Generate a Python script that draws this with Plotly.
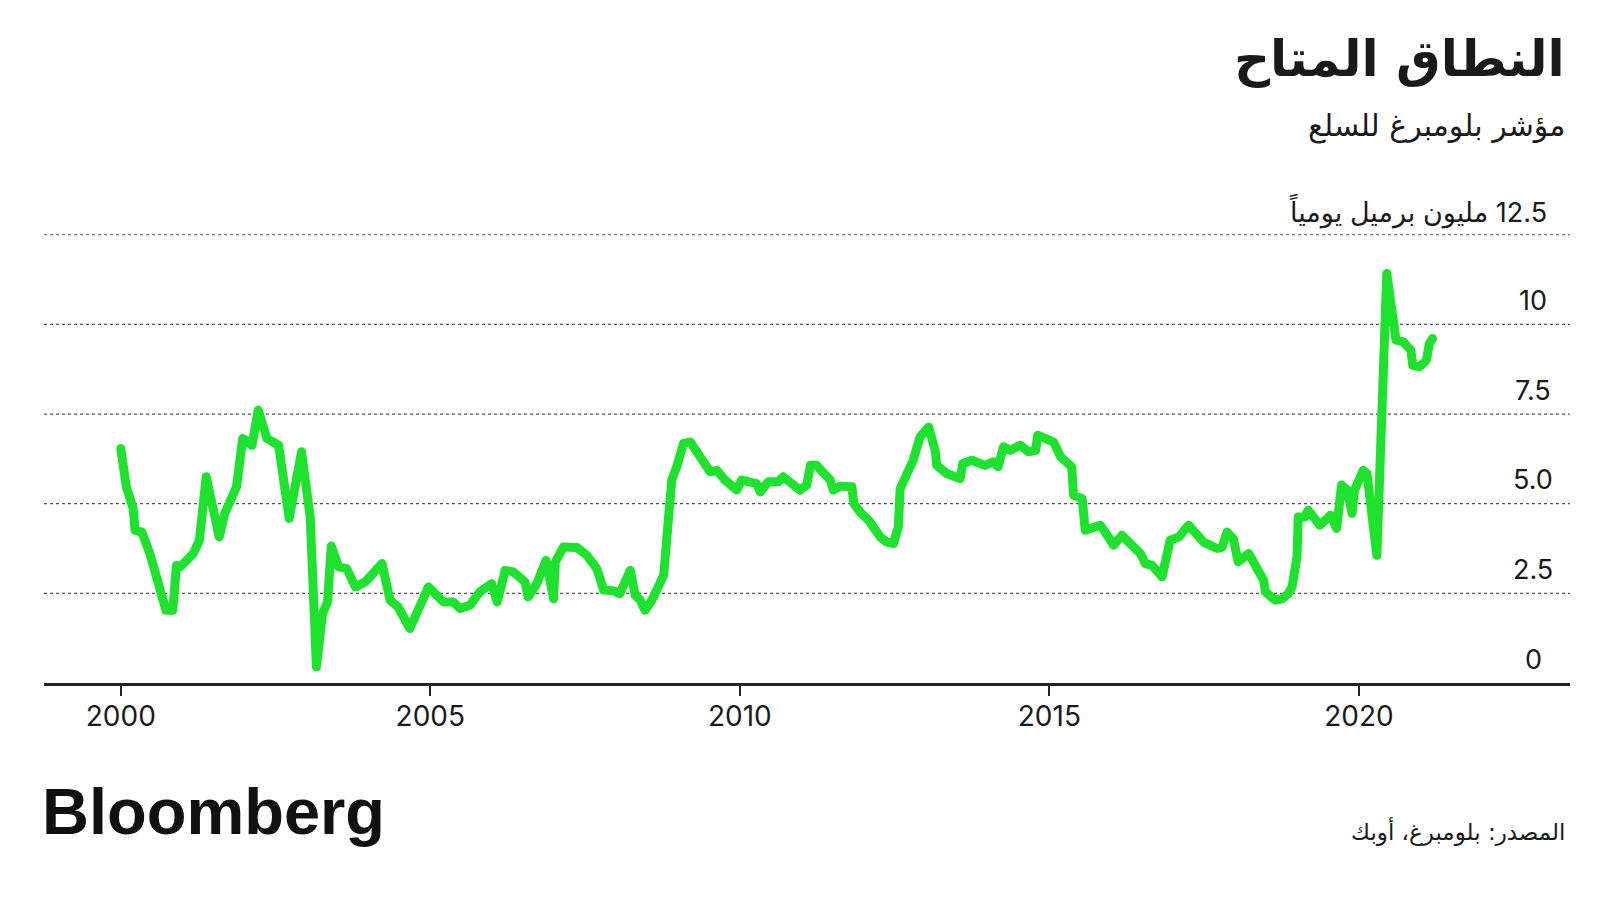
import plotly.graph_objects as go

# ---- data ----
years = [
    2000.00, 2000.09, 2000.20, 2000.23, 2000.34, 2000.47, 2000.73, 2000.84, 2000.90, 2000.96,
    2001.17, 2001.27, 2001.38, 2001.59, 2001.68, 2001.87, 2001.97, 2002.12, 2002.22, 2002.36,
    2002.55, 2002.72, 2002.92, 2003.06, 2003.16, 2003.26, 2003.34, 2003.40, 2003.52, 2003.65,
    2003.79, 2003.95, 2004.22, 2004.35, 2004.48, 2004.67, 2004.97, 2005.21, 2005.37, 2005.48,
    2005.64, 2005.80, 2005.99, 2006.08, 2006.21, 2006.34, 2006.53, 2006.58, 2006.72, 2006.87,
    2006.99, 2007.02, 2007.15, 2007.37, 2007.53, 2007.69, 2007.80, 2007.96, 2008.06, 2008.23,
    2008.31, 2008.39, 2008.47, 2008.58, 2008.77, 2008.90, 2008.98, 2009.09, 2009.20, 2009.39,
    2009.52, 2009.63, 2009.76, 2009.95, 2010.03, 2010.27, 2010.33, 2010.46, 2010.62, 2010.70,
    2010.97, 2011.08, 2011.14, 2011.24, 2011.35, 2011.46, 2011.51, 2011.62, 2011.81, 2011.84,
    2011.94, 2012.08, 2012.27, 2012.37, 2012.48, 2012.56, 2012.59, 2012.80, 2012.91, 2013.05,
    2013.16, 2013.18, 2013.34, 2013.56, 2013.60, 2013.75, 2013.96, 2014.10, 2014.17, 2014.26,
    2014.37, 2014.53, 2014.66, 2014.78, 2014.81, 2015.07, 2015.18, 2015.36, 2015.39, 2015.53,
    2015.58, 2015.82, 2015.90, 2016.04, 2016.17, 2016.36, 2016.47, 2016.55, 2016.66, 2016.82,
    2016.95, 2017.09, 2017.25, 2017.49, 2017.71, 2017.79, 2017.87, 2017.97, 2018.05, 2018.22,
    2018.35, 2018.46, 2018.49, 2018.65, 2018.76, 2018.86, 2018.92, 2019.00, 2019.02, 2019.13,
    2019.18, 2019.37, 2019.54, 2019.64, 2019.72, 2019.81, 2019.89, 2019.93, 2020.07, 2020.13,
    2020.29, 2020.45, 2020.60, 2020.72, 2020.84, 2020.87, 2020.98, 2021.09, 2021.14, 2021.19,
]
spare_capacity = [
    6.54, 5.47, 4.87, 4.26, 4.21, 3.61, 2.03, 2.03, 3.28, 3.24,
    3.61, 3.98, 5.75, 4.07, 4.73, 5.47, 6.82, 6.63, 7.61, 6.82,
    6.63, 4.59, 6.45, 4.63, 0.45, 1.94, 2.26, 3.82, 3.24, 3.19,
    2.68, 2.82, 3.33, 2.31, 2.12, 1.52, 2.68, 2.26, 2.26, 2.08,
    2.17, 2.54, 2.77, 2.26, 3.14, 3.10, 2.82, 2.40, 2.77, 3.42,
    2.35, 3.38, 3.79, 3.78, 3.56, 3.19, 2.59, 2.57, 2.49, 3.14,
    2.45, 2.31, 2.03, 2.31, 3.01, 5.66, 6.03, 6.68, 6.72, 6.21,
    5.89, 5.93, 5.66, 5.38, 5.66, 5.56, 5.33, 5.61, 5.61, 5.75,
    5.38, 5.52, 6.07, 6.07, 5.84, 5.66, 5.38, 5.49, 5.47, 5.01,
    4.77, 4.54, 4.07, 3.93, 3.89, 4.35, 5.42, 6.21, 6.86, 7.14,
    6.45, 6.07, 5.84, 5.70, 6.12, 6.21, 6.07, 6.17, 6.03, 6.59,
    6.49, 6.63, 6.45, 6.49, 6.91, 6.72, 6.31, 6.03, 5.24, 5.14,
    4.26, 4.40, 4.21, 3.84, 4.12, 3.84, 3.61, 3.33, 3.28, 2.96,
    3.98, 4.07, 4.40, 3.93, 3.75, 3.79, 4.21, 4.03, 3.38, 3.61,
    3.19, 2.87, 2.54, 2.31, 2.35, 2.49, 2.68, 3.52, 4.63, 4.63,
    4.82, 4.40, 4.68, 4.31, 5.52, 5.38, 4.73, 5.38, 5.93, 5.84,
    3.56, 11.42, 9.56, 9.51, 9.28, 8.86, 8.82, 9.00, 9.47, 9.61,
]
x_tick_years = [2000, 2005, 2010, 2015, 2020]
x_tick_labels = ["2000", "2005", "2010", "2015", "2020"]
y_tick_vals = [0, 2.5, 5.0, 7.5, 10]
y_tick_labels = ["0", "2.5", "5.0", "7.5", "10"]
y_grid_vals = [2.5, 5.0, 7.5, 10, 12.5]
y_top_val = 12.5
y_top_label = "12.5 مليون برميل يومياً"

title = "النطاق المتاح"
subtitle = "مؤشر بلومبرغ للسلع"
source = "المصدر: بلومبرغ، أوبك"
logo = "Bloomberg"

# ---- layout geometry (page has an 8px body margin) ----
OFF = 8
W, H = 1592, 884
Y_MAX = 12.8                 # a little headroom so the 12.5 grid line is not clipped
PX_PER_UNIT = 35.84
ML, MR, MB = 36, 30, 209
PH = round(Y_MAX * PX_PER_UNIT)
MT = H - MB - PH
PW = W - ML - MR


def px(x_page):
    return (x_page - OFF - ML) / PW


def py(y_page):
    return (H - MB - (y_page - OFF)) / PH


RLE, PDF = "\u202B", "\u202C"
ARABIC_FONT = "DejaVu Sans"
NUM_FONT = "Inter"
INK = "#1a1a1a"

fig = go.Figure()
fig.add_trace(go.Scatter(
    x=years, y=spare_capacity, mode="lines",
    line=dict(color="#1FE22E", width=9),
    hoverinfo="skip",
))

annotations = [
    dict(text="<b>" + RLE + title + PDF + "</b>", x=px(1567), y=py(59), xanchor="right", yanchor="middle",
         font=dict(family=ARABIC_FONT, size=50, color=INK)),
    dict(text=RLE + subtitle + PDF, x=px(1567), y=py(126), xanchor="right", yanchor="middle",
         font=dict(family=ARABIC_FONT, size=30, color=INK)),
    dict(text=RLE + y_top_label + PDF, x=px(1549), y=y_top_val, yref="y", yshift=24,
         xanchor="right", yanchor="middle",
         font=dict(family=NUM_FONT + ", " + ARABIC_FONT, size=27, color=INK)),
    dict(text="<b>" + logo + "</b>", x=px(40), y=py(811), xanchor="left", yanchor="middle",
         font=dict(family="Liberation Sans", size=65, color="#111")),
    dict(text=RLE + source + PDF, x=px(1567), y=py(831), xanchor="right", yanchor="middle",
         font=dict(family=ARABIC_FONT, size=23, color=INK)),
]
for v, lab in zip(y_tick_vals, y_tick_labels):
    annotations.append(dict(text=lab, x=px(1533), y=v, yref="y", yshift=24,
                            xanchor="center", yanchor="middle",
                            font=dict(family=NUM_FONT, size=27, color=INK)))
for a in annotations:
    a.setdefault("xref", "paper")
    a.setdefault("yref", "paper")
    a["showarrow"] = False

shapes = [
    dict(type="line", xref="paper", yref="y", x0=0, x1=1, y0=v, y1=v,
         line=dict(color="#555", width=1.2, dash="dot"), layer="below")
    for v in y_grid_vals
]

fig.update_layout(
    width=W, height=H,
    margin=dict(l=ML, r=MR, t=MT, b=MB),
    paper_bgcolor="white", plot_bgcolor="white",
    showlegend=False,
    annotations=annotations,
    shapes=shapes,
    xaxis=dict(
        range=[1998.76, 2023.41], tickmode="array", tickvals=x_tick_years, ticktext=x_tick_labels,
        showgrid=False, zeroline=False, showline=True, linecolor="#222", linewidth=2.7,
        ticks="outside", ticklen=10, tickwidth=2, tickcolor="#222",
        tickfont=dict(family=NUM_FONT, size=28, color=INK),
        ticklabelstandoff=-3,
        fixedrange=True,
    ),
    yaxis=dict(
        range=[0, Y_MAX], showticklabels=False, showgrid=False,
        zeroline=False, showline=False, ticks="", fixedrange=True,
    ),
)

round_joins = (
    "document.querySelectorAll('.js-line').forEach(function(e){"
    "e.style.strokeLinejoin='round';e.style.strokeLinecap='round';});"
)
fig.write_html("out.html", post_script=round_joins)
